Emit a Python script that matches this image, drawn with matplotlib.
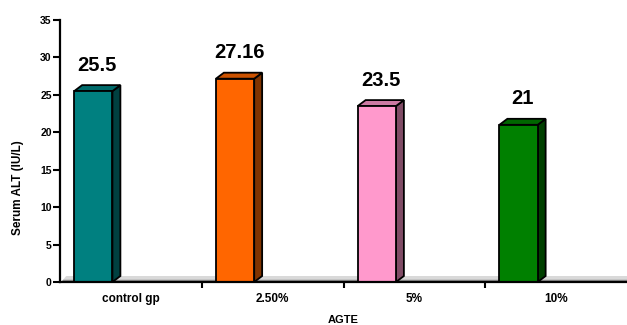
import matplotlib.pyplot as plt
from matplotlib.patches import Polygon

plt.rcParams['font.family'] = ['Liberation Sans', 'DejaVu Sans']

# data
groups = ['control gp', '2.50%', '5%', '10%']
alt_values = [25.5, 27.16, 23.5, 21]
value_labels = ['25.5', '27.16', '23.5', '21']
front_colors = ['#008080', '#FF6600', '#FF99CC', '#008000']
side_colors = ['#004040', '#803300', '#804C66', '#004000']
top_colors = ['#006A6A', '#CC5200', '#CC7AA3', '#006600']

fig = plt.figure(figsize=(6.27, 3.25), dpi=100)
ax = fig.add_axes([60 / 627, 1 - 282 / 325, 567 / 627, 262 / 325])

xs = range(len(groups))
offset = -0.40   # bar left edge relative to category centre
width = 0.27
dx, dy = 0.056, 0.8   # 3d depth in data units

ax.set_xlim(-0.5, len(groups) - 0.5)
ax.set_ylim(0, 35)

# floor
x0, x1 = -0.5, len(groups) - 0.5
ax.add_patch(Polygon([(x0 + 0.01, 0), (x0 + 0.01 + dx * 0.6, dy), (x1, dy), (x1, 0)],
                     closed=True, facecolor='#D9D9D9', edgecolor='none', zorder=1))
ax.add_patch(Polygon([(x0 + 0.01, 0), (x0 + 0.01 + dx * 0.2, 0.3), (x1, 0.3), (x1, 0)],
                     closed=True, facecolor='#8C8C8C', edgecolor='none', zorder=1))

lefts = [x + offset for x in xs]
bars = ax.bar(lefts, alt_values, width=width, align='edge', color=front_colors,
              edgecolor='black', linewidth=1.3, zorder=3)

for left, v, sc, tc, lab in zip(lefts, alt_values, side_colors, top_colors, value_labels):
    r = left + width
    ax.add_patch(Polygon([(r, 0), (r + dx, dy), (r + dx, v + dy), (r, v)], closed=True,
                         facecolor=sc, edgecolor='black', linewidth=1.3, zorder=2))
    ax.add_patch(Polygon([(left, v), (left + dx, v + dy), (r + dx, v + dy), (r, v)], closed=True,
                         facecolor=tc, edgecolor='black', linewidth=1.3, zorder=2))
    ax.text(left + (width + dx) / 2, v + dy + 1.4, lab, ha='center', va='bottom',
            fontsize=14.5, fontweight='bold', zorder=4)

ax.set_yticks(range(0, 36, 5))
ax.set_xticks(list(xs))
ax.set_xticklabels(groups)
ax.set_xticks([0.5, 1.5, 2.5], minor=True)
ax.tick_params(axis='x', which='major', length=0, pad=8, labelsize=8.5)
ax.tick_params(axis='x', which='minor', length=4, width=1.5, direction='out')
ax.tick_params(axis='y', length=5, width=1.5, pad=1, labelsize=7.5)
for lab in ax.get_xticklabels() + ax.get_yticklabels():
    lab.set_fontweight('bold')

for s in ['top', 'right']:
    ax.spines[s].set_visible(False)
for s in ['left', 'bottom']:
    ax.spines[s].set_linewidth(1.6)
    ax.spines[s].set_zorder(5)

fig.text(18 / 627, 1 - 188 / 325, 'Serum ALT (IU/L)', rotation=90, ha='center', va='center',
         fontsize=8.5, fontweight='bold')
fig.text(343 / 627, 1 - 320 / 325, 'AGTE', ha='center', va='center',
         fontsize=8, fontweight='bold')

fig.savefig('out.png', dpi=100)
